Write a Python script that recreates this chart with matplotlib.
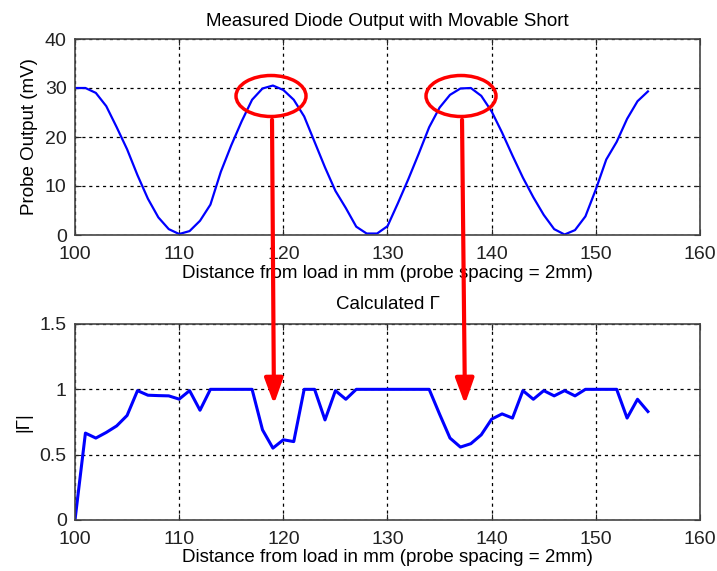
import numpy as np
import matplotlib.pyplot as plt
from matplotlib.patches import Ellipse, FancyArrowPatch

plt.rcParams['font.family'] = ['Liberation Sans', 'DejaVu Sans']

# distance from load (mm), one reading per mm
dist = np.arange(100, 156)

# measured probe output (mV)
probe_mv = [30.0, 30.0, 29.0, 26.3, 22.0, 17.5, 12.2, 7.4, 3.6, 1.2,
            0.2, 0.8, 2.9, 6.2, 12.9, 18.3, 23.2, 27.6, 29.9, 30.5,
            29.6, 27.6, 24.2, 19.0, 13.8, 9.0, 5.5, 1.7, 0.3, 0.3,
            1.8, 6.5, 11.4, 16.6, 22.0, 26.0, 28.6, 29.9, 30.0, 28.4,
            25.2, 20.9, 16.2, 11.7, 7.7, 4.1, 1.2, 0.1, 1.0, 3.8,
            9.3, 15.4, 19.0, 23.7, 27.3, 29.3]

# calculated |Gamma|
gamma_mag = [0.0, 0.665, 0.627, 0.67, 0.72, 0.80, 0.99, 0.955, 0.952, 0.95,
             0.925, 0.99, 0.84, 1.0, 1.0, 1.0, 1.0, 1.0, 0.69, 0.55,
             0.614, 0.60, 1.0, 1.0, 0.766, 0.99, 0.924, 1.0, 1.0, 1.0,
             1.0, 1.0, 1.0, 1.0, 1.0, 0.81, 0.627, 0.558, 0.584, 0.652,
             0.772, 0.812, 0.78, 0.99, 0.924, 0.99, 0.95, 0.99, 0.95, 1.0,
             1.0, 1.0, 1.0, 0.78, 0.924, 0.83]

x_ticks = [100, 110, 120, 130, 140, 150, 160]
xlabel = 'Distance from load in mm (probe spacing = 2mm)'

W, H = 717, 571
fig = plt.figure(figsize=(W / 100, H / 100), dpi=100)

def px_rect(l, t, r, b):
    return [l / W, 1 - b / H, (r - l) / W, (b - t) / H]

ax1 = fig.add_axes(px_rect(75, 39, 700, 235))
ax2 = fig.add_axes(px_rect(75, 324, 700, 520))

def style(ax):
    ax.grid(True, color='black', linestyle=(0, (2.5, 3)), linewidth=0.9)
    ax.tick_params(direction='in', length=4, top=True, right=True,
                   labelsize=14, colors='#222222')
    ax.tick_params(axis='x', pad=8)
    ax.tick_params(axis='y', pad=6)
    for s in ax.spines.values():
        s.set_color('#444444')
        s.set_linewidth(1.2)
    ax.set_xlim(100, 160)
    ax.set_xticks(x_ticks)
    ax.set_xlabel(xlabel, fontsize=13.5, labelpad=1)

ax1.plot(dist, probe_mv, color='#0000ff', linewidth=1.6)
ax1.set_ylim(0, 40)
ax1.set_yticks([0, 10, 20, 30, 40])
ax1.set_ylabel('Probe Output (mV)', fontsize=13.5, labelpad=5)
ax1.set_title('Measured Diode Output with Movable Short', fontsize=13.5, pad=9)
style(ax1)

ax2.plot(dist, gamma_mag, color='#0000ff', linewidth=2.2)
ax2.set_ylim(0, 1.5)
ax2.set_yticks([0, 0.5, 1, 1.5])
ax2.set_yticklabels(['0', '0.5', '1', '1.5'])
ax2.set_ylabel('|\u0393|', fontsize=13.5, labelpad=5)
ax2.set_title('Calculated \u0393', fontsize=13.5, pad=11)
style(ax2)

# red highlight: circles around the peaks and arrows to the dips
def fx(x):
    return x / W

def fy(y):
    return 1 - y / H

for cx, tip_x in [(271, 274), (461, 465)]:
    fig.patches.append(Ellipse((fx(cx), fy(96)), 70 / W, 41 / H,
                               transform=fig.transFigure, fill=False,
                               edgecolor='#ff0000', linewidth=2.5))
    fig.patches.append(FancyArrowPatch((fx(cx + 1), fy(117)), (fx(tip_x), fy(407)),
                                       transform=fig.transFigure,
                                       arrowstyle='-|>,head_length=1.1,head_width=0.4',
                                       mutation_scale=14, color='#ff0000',
                                       linewidth=3))

fig.savefig('out.png', dpi=100)
